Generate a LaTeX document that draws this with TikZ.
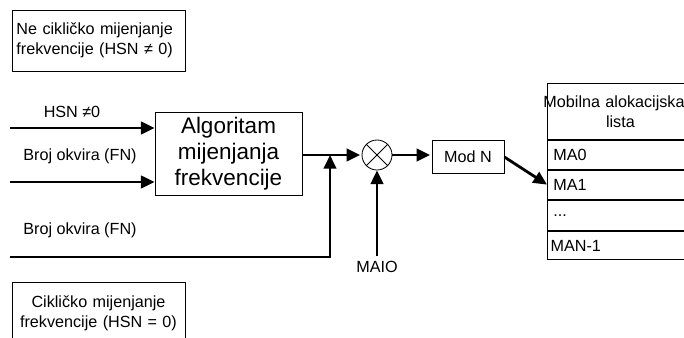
\documentclass[tikz,border=0pt]{standalone}
\usepackage{fontspec}
\setmainfont{Liberation Sans}
\usetikzlibrary{arrows.meta}

\tikzset{
  blok/.style={draw, line width=0.6pt, inner sep=0pt},
  tok/.style={line width=2pt, -{Triangle[length=3.4mm, width=3.1mm]}},
  redak/.style={draw, line width=0.6pt, anchor=north west, minimum width=36.5mm,
    text width=33.5mm, inner xsep=1.5mm, inner ysep=0pt, align=left}
}

\begin{document}
\begin{tikzpicture}[x=0.25mm, y=-0.25mm, font=\fontsize{11.5}{14.5}\selectfont]
      \useasboundingbox (0,0) rectangle (684,338);
      \clip (0,0) rectangle (684,338);
      % opisi
      \node[blok, minimum width=43.25mm, minimum height=15.25mm, text width=41mm, align=left] (neciklicko) at (98.5,40.5) {Ne cikličko mijenjanje\\frekvencije (HSN ≠ 0)};
      \node[blok, minimum width=43.25mm, minimum height=15.75mm, text width=41mm, align=center] (ciklicko) at (98.5,313.5) {Cikličko mijenjanje\\frekvencije (HSN = 0)};
      % algoritam
      \node[blok, minimum width=36.75mm, minimum height=20.75mm, align=center, font=\fontsize{16}{18.5}\selectfont] (algo) at (228.5,153.5) {Algoritam\\mijenjanja\\frekvencije};
      \coordinate (ulaz1) at (10,128);
      \coordinate (ulaz2) at (10,182);
      \coordinate (ulaz3) at (10,257);
      \node (hsn) at (72,112) {HSN ≠0};
      \node (fn1) at (80,156) {Broj okvira (FN)};
      \node (fn2) at (80,230) {Broj okvira (FN)};
      \draw[tok] (ulaz1) -- (ulaz1 -| algo.west);
      \draw[tok] (ulaz2) -- (ulaz2 -| algo.west);
      % zbrajalo
      \node[draw, circle, line width=0.6pt, minimum size=7.5mm, inner sep=0pt] (mix) at (377,155) {};
      \draw[line width=0.6pt] (mix.north west) -- (mix.south east) (mix.north east) -- (mix.south west);
      \coordinate (spoj) at (330,155);
      \draw[tok, shorten >=1pt] (algo.east |- spoj) -- (mix.west);
      \draw[tok] (ulaz3) -| (spoj);
      \node (maio) at (377,267) {MAIO};
      \draw[tok] (maio.north) -- (mix.south);
      % mod N
      \node[blok, minimum width=18mm, minimum height=8.25mm] (modn) at (468,157) {Mod N};
      \draw[tok, shorten >=1pt] (mix.east) -- (mix.east -| modn.west);
      % lista
      \node[redak, minimum height=14mm, text width=36.5mm, inner xsep=0pt, align=center] (zaglavlje) at (547,83) {\hspace*{-3.2mm}Mobilna alokacijska\\lista};
      \node[redak, minimum height=7.25mm] (ma0) at (zaglavlje.south west) {MA0};
      \node[redak, minimum height=7.25mm] (ma1) at (ma0.south west) {MA1};
      \node[redak, minimum height=7.75mm] (tocke) at (ma1.south west) {...};
      \node[redak, minimum height=7mm, inner xsep=0.8mm, text width=34.9mm] (man) at (tocke.south west) {MAN-1};
      \foreach \r in {zaglavlje,ma0,ma1,tocke}
        \draw[line width=1.3pt] (\r.south west) -- (\r.south east);
      \draw[tok] (modn.east) -- (ma1.west);
\end{tikzpicture}
\end{document}
